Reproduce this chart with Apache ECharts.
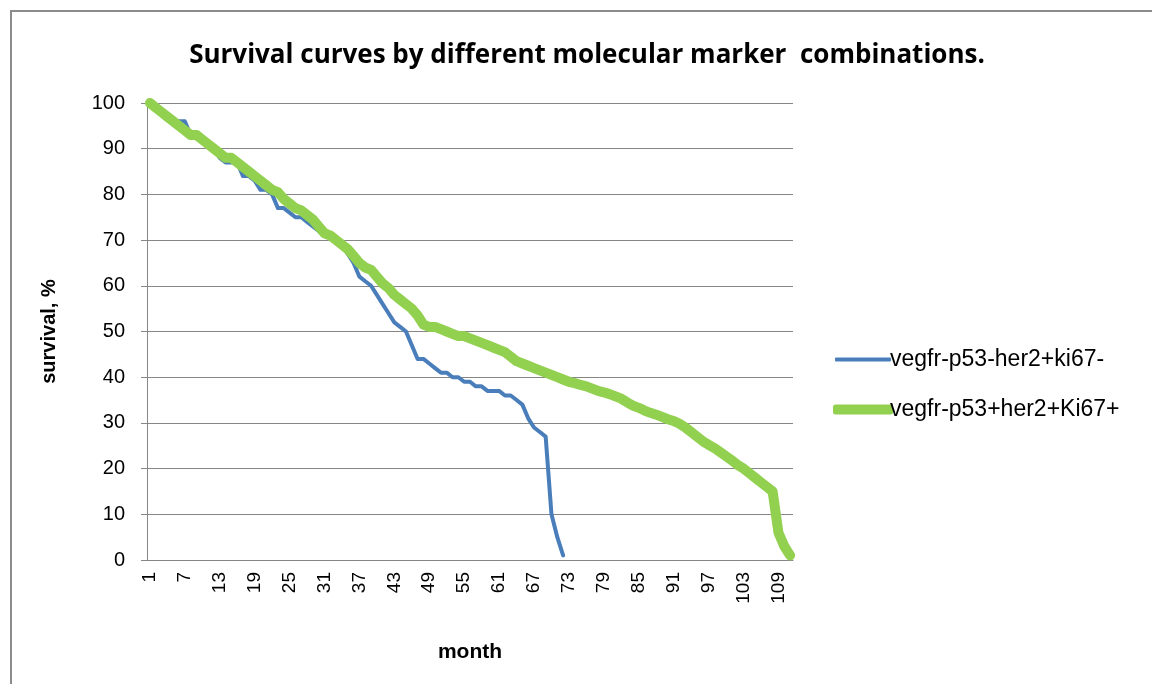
<!DOCTYPE html>
<html>
<head>
<meta charset="utf-8">
<script src="https://cdn.jsdelivr.net/npm/echarts@6/dist/echarts.min.js"></script>
<style>
  html, body { margin: 0; padding: 0; background: #fff; }
  #frame {
    position: absolute; left: 10px; top: 10px; width: 1160px; height: 700px;
    border: 2px solid #8c8c8c; box-sizing: border-box;
  }
  #chart { position: absolute; left: 0; top: 0; width: 1152px; height: 684px; }
</style>
</head>
<body>
<div id="frame"></div>
<div id="chart"></div>
<script>
// months 1..111
var months = [];
for (var i = 1; i <= 111; i++) months.push(String(i));

var seriesNames = ["vegfr-p53-her2+ki67-", "vegfr-p53+her2+Ki67+"];

// survival, %
var blueValues = [
  100, 99, 98, 97, 96, 96, 96, 93, 93, 92,
  91, 90, 88, 87, 87, 87, 84, 84, 83, 81,
  81, 80, 77, 77, 76, 75, 75, 74, 73, 72,
  71, 71, 70, 69, 67, 65, 62, 61, 60, 58,
  56, 54, 52, 51, 50, 47, 44, 44, 43, 42,
  41, 41, 40, 40, 39, 39, 38, 38, 37, 37,
  37, 36, 36, 35, 34, 31, 29, 28, 27, 10,
  5, 1
];

var greenValues = [
  100, 99, 98, 97, 96, 95, 94, 93, 93, 92,
  91, 90, 89, 88, 88, 87, 86, 85, 84, 83,
  82, 81, 80.5, 79, 78, 77, 76.5, 75.5, 74.5, 73,
  71.5, 71, 70, 69, 68, 66.5, 65, 64, 63.5, 62,
  60.5, 59.5, 58, 57, 56, 55, 53.5, 51.5, 51, 51,
  50.5, 50, 49.5, 49, 49, 48.5, 48, 47.5, 47, 46.5,
  46, 45.5, 44.5, 43.5, 43, 42.5, 42, 41.5, 41, 40.5,
  40, 39.5, 39, 38.7, 38.3, 38, 37.5, 37, 36.7, 36.3,
  35.8, 35.3, 34.5, 33.8, 33.3, 32.7, 32.2, 31.8, 31.3, 30.8,
  30.4, 29.8, 29, 28, 27, 26, 25.2, 24.5, 23.6, 22.7,
  21.8, 20.8, 20, 19, 18, 17, 16, 15, 6, 3,
  1
];

var chart = echarts.init(document.getElementById("chart"));
var txt = { fontFamily: "Liberation Sans, Arial, sans-serif", color: "#000" };

var option = {
  animation: false,
  title: {
    text: "Survival curves by different molecular marker  combinations.",
    left: 582, top: 38, textAlign: "center",
    textStyle: { fontFamily: "Open Sans, sans-serif", fontWeight: "bold", fontSize: 26, color: "#000" }
  },
  grid: { left: 147, right: 359, top: 103, bottom: 124 },
  legend: [
    {
      data: [seriesNames[0]], left: 830, top: 343, icon: "roundRect",
      itemWidth: 56, itemHeight: 4,
      textStyle: Object.assign({ fontSize: 23, padding: [0, 0, 0, -6] }, txt)
    },
    {
      data: [seriesNames[1]], left: 828, top: 393, icon: "roundRect",
      itemWidth: 60, itemHeight: 10,
      textStyle: Object.assign({ fontSize: 23, padding: [0, 0, 0, -8] }, txt)
    }
  ],
  xAxis: {
    type: "category",
    data: months,
    boundaryGap: true,
    name: "month",
    nameLocation: "middle",
    nameGap: 82,
    nameTextStyle: Object.assign({ fontSize: 21, fontWeight: "bold" }, txt),
    axisLine: { lineStyle: { color: "#868686", width: 1 } },
    axisTick: { show: false },
    axisLabel: Object.assign({ interval: 5, rotate: 90, fontSize: 19, margin: 12 }, txt)
  },
  yAxis: {
    type: "value",
    min: 0, max: 100, interval: 10,
    name: "survival, %",
    nameLocation: "middle",
    nameGap: 88,
    nameTextStyle: Object.assign({ fontSize: 20, fontWeight: "bold" }, txt),
    axisLine: { show: true, lineStyle: { color: "#868686", width: 1 } },
    axisTick: { show: true, length: 6, lineStyle: { color: "#868686" } },
    axisLabel: Object.assign({ fontSize: 20, margin: 22 }, txt),
    splitLine: { lineStyle: { color: "#868686", width: 1 } }
  },
  series: [
    {
      name: seriesNames[0], type: "line", data: blueValues,
      showSymbol: false, symbol: "none",
      lineStyle: { color: "#4A7EBB", width: 4, cap: "round", join: "round" },
      itemStyle: { color: "#4A7EBB" }
    },
    {
      name: seriesNames[1], type: "line", data: greenValues,
      showSymbol: false, symbol: "none",
      lineStyle: { color: "#92D050", width: 10, cap: "round", join: "round" },
      itemStyle: { color: "#92D050" }
    }
  ]
};

chart.setOption(option);
window.addEventListener("resize", function () {
  chart.resize();
});
</script>
</body>
</html>
